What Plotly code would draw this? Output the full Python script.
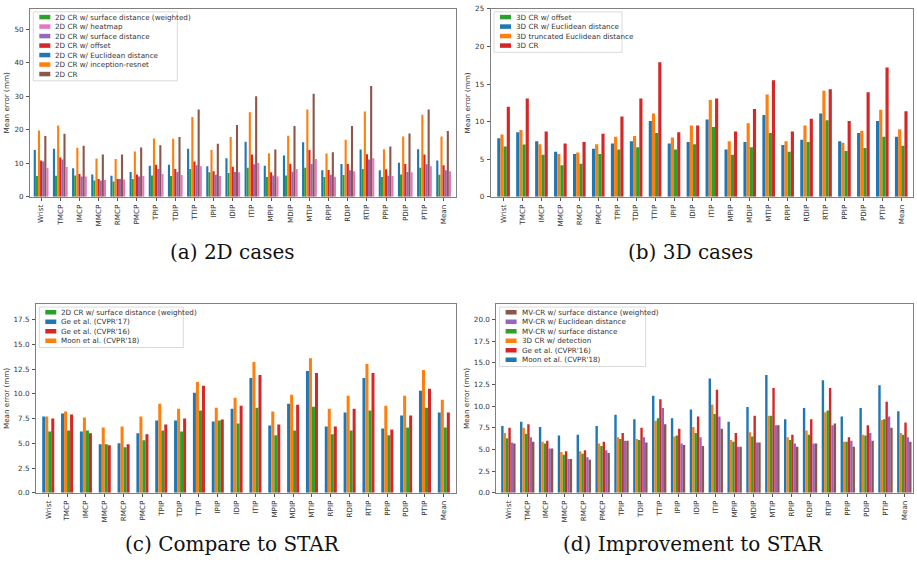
import plotly.graph_objects as go

W, H = 917, 562

categories = ["Wrist", "TMCP", "IMCP", "MMCP", "RMCP", "PMCP", "TPIP", "TDIP", "TTIP",
              "IPIP", "IDIP", "ITIP", "MPIP", "MDIP", "MTIP", "RPIP", "RDIP", "RTIP",
              "PPIP", "PDIP", "PTIP", "Mean"]

# ---------------- (a) 2D cases ----------------
a_weighted = [6.2, 6.3, 6.4, 4.9, 4.6, 5.3, 6.4, 6.2, 8.3, 7.3, 7.1, 8.7, 5.9, 6.4, 8.7, 5.9, 6.5, 8.3, 5.9, 6.7, 8.7, 6.6]
a_heatmap = [8.6, 8.9, 6.1, 5.0, 5.2, 6.2, 6.8, 6.5, 9.1, 6.2, 7.3, 10.1, 6.1, 8.3, 11.3, 6.0, 7.6, 11.5, 6.2, 7.3, 9.1, 7.6]
a_surface = [10.5, 11.1, 6.1, 4.9, 5.3, 6.1, 8.3, 7.4, 9.4, 6.6, 7.4, 9.7, 6.4, 7.5, 9.8, 6.6, 7.9, 11.1, 6.3, 7.4, 9.7, 7.9]
a_offset = [10.8, 11.7, 6.8, 5.3, 5.3, 6.7, 9.6, 8.3, 10.5, 7.6, 9.0, 12.6, 7.3, 9.9, 14.0, 8.0, 9.8, 12.7, 8.2, 9.8, 12.6, 9.4]
a_euclid = [14.0, 14.3, 8.5, 6.7, 6.3, 7.4, 9.3, 9.6, 14.3, 9.1, 11.5, 16.4, 9.3, 12.3, 16.3, 7.9, 9.8, 14.1, 7.9, 10.2, 14.2, 10.8]
a_inception = [19.8, 21.3, 14.6, 11.4, 11.3, 13.5, 17.4, 17.3, 23.8, 14.0, 17.8, 25.2, 13.0, 18.2, 26.0, 12.9, 17.0, 25.4, 14.2, 18.0, 24.5, 18.0]
a_cr = [18.1, 18.8, 15.2, 12.6, 12.6, 14.7, 15.4, 17.8, 26.0, 15.8, 21.4, 30.0, 14.1, 21.1, 30.7, 13.3, 21.1, 33.0, 15.0, 18.9, 26.0, 19.6]

# ---------------- (b) 3D cases ----------------
b_offset = [6.7, 6.95, 5.6, 4.2, 4.4, 5.7, 6.3, 6.6, 8.5, 6.3, 7.0, 9.3, 5.6, 6.6, 8.5, 6.0, 7.3, 10.2, 6.1, 6.5, 8.0, 6.8]
b_euclid = [7.8, 8.6, 7.4, 6.0, 5.7, 6.4, 7.1, 7.4, 10.1, 7.1, 7.3, 10.3, 6.3, 7.3, 10.9, 6.9, 7.6, 11.1, 7.4, 8.5, 10.1, 8.0]
b_trunc = [8.3, 8.9, 7.0, 5.7, 5.9, 7.0, 8.0, 8.1, 11.1, 7.9, 9.5, 12.9, 7.4, 9.8, 13.6, 7.4, 9.5, 14.1, 7.2, 8.8, 11.6, 9.0]
b_cr = [12.0, 13.1, 8.7, 7.1, 7.3, 8.4, 10.7, 13.1, 17.9, 8.6, 9.5, 13.1, 8.7, 11.7, 15.5, 8.7, 10.4, 14.3, 10.1, 13.9, 17.2, 11.4]

# ---------------- (c) Compare to STAR ----------------
c_weighted = [6.2, 6.3, 6.3, 4.9, 4.6, 5.3, 6.3, 6.2, 8.3, 7.3, 7.0, 8.6, 5.8, 6.3, 8.7, 5.9, 6.3, 8.3, 5.8, 6.6, 8.6, 6.6]
c_ge17 = [7.7, 8.0, 6.2, 4.9, 5.0, 6.0, 7.3, 7.3, 10.1, 7.2, 8.5, 11.6, 6.8, 9.0, 12.3, 6.7, 8.1, 11.6, 6.5, 7.8, 10.3, 8.1]
c_ge16 = [7.5, 7.9, 6.0, 4.8, 4.9, 5.9, 6.9, 7.5, 10.8, 7.4, 8.8, 11.9, 6.9, 8.9, 12.1, 6.7, 8.5, 12.1, 6.4, 7.8, 10.5, 8.1]
c_moon = [7.7, 8.2, 7.6, 6.6, 6.7, 7.7, 9.0, 8.5, 11.2, 8.6, 9.6, 13.2, 8.2, 9.9, 13.6, 8.5, 9.8, 13.0, 8.8, 9.8, 12.4, 9.4]

# ---------------- (d) Improvement to STAR ----------------
d_mv_weighted = [5.7, 5.9, 5.1, 3.9, 3.8, 4.6, 6.0, 5.8, 7.9, 5.5, 5.4, 7.4, 5.3, 5.8, 7.8, 5.3, 5.7, 8.0, 5.3, 6.0, 7.5, 5.9]
d_mv_euclid = [5.8, 6.4, 5.1, 3.9, 4.1, 4.9, 6.0, 6.4, 9.8, 5.7, 6.4, 8.8, 5.3, 5.8, 7.8, 5.7, 5.7, 7.8, 6.0, 6.9, 8.8, 6.4]
d_mv_surface = [6.3, 6.8, 5.7, 4.4, 4.5, 5.4, 6.2, 6.1, 8.6, 6.6, 6.9, 9.1, 5.9, 6.5, 8.9, 6.1, 6.7, 9.5, 5.9, 6.6, 8.5, 6.7]
d_detection = [6.9, 7.5, 5.9, 4.7, 4.8, 5.7, 6.4, 6.2, 8.3, 6.5, 7.6, 10.2, 6.1, 7.0, 8.9, 6.4, 7.2, 9.3, 5.9, 6.7, 8.4, 6.9]
d_ge16 = [7.5, 7.9, 6.0, 4.8, 4.9, 5.9, 6.9, 7.5, 10.8, 7.4, 8.8, 11.9, 6.9, 8.9, 12.1, 6.7, 8.5, 12.1, 6.4, 7.8, 10.5, 8.1]
d_moon = [7.7, 8.2, 7.6, 6.6, 6.7, 7.7, 9.0, 8.5, 11.2, 8.6, 9.6, 13.2, 8.2, 9.9, 13.6, 8.5, 9.8, 13.0, 8.8, 9.8, 12.4, 9.4]

captions = ["(a) 2D cases", "(b) 3D cases", "(c) Compare to STAR", "(d) Improvement to STAR"]
y_title = "Mean error (mm)"

C = {"blue": "#1f77b4", "orange": "#ff7f0e", "green": "#2ca02c", "red": "#d62728",
     "purple": "#9467bd", "brown": "#8c564b", "pink": "#e377c2"}

panels = [
    dict(area=(30, 5, 455.5, 196), yrange=[0, 56], dtick=10, fmt="d", bw=0.11, xr=[-0.58, 21.62],
         legend_w=144, caption_xy=(232, 252),
         series=[("2D CR w/ Euclidean distance", a_euclid, "blue"),
                 ("2D CR w/ surface distance (weighted)", a_weighted, "green"),
                 ("2D CR w/ inception-resnet", a_inception, "orange"),
                 ("2D CR w/ offset", a_offset, "red"),
                 ("2D CR w/ surface distance", a_surface, "purple"),
                 ("2D CR", a_cr, "brown"),
                 ("2D CR w/ heatmap", a_heatmap, "pink")],
         legend=["2D CR w/ surface distance (weighted)", "2D CR w/ heatmap", "2D CR w/ surface distance",
                 "2D CR w/ offset", "2D CR w/ Euclidean distance", "2D CR w/ inception-resnet", "2D CR"]),
    dict(area=(490.7, 5, 913, 196), yrange=[0, 25], dtick=5, fmt="d", bw=0.167, xr=[-0.68, 21.62],
         legend_w=128, caption_xy=(690, 252),
         series=[("3D CR w/ Euclidean distance", b_euclid, "blue"),
                 ("3D truncated Euclidean distance", b_trunc, "orange"),
                 ("3D CR w/ offset", b_offset, "green"),
                 ("3D CR", b_cr, "red")],
         legend=["3D CR w/ offset", "3D CR w/ Euclidean distance", "3D truncated Euclidean distance", "3D CR"]),
    dict(area=(36, 305, 455.5, 496.7), yrange=[0, 19.06], dtick=2.5, fmt=".1f", bw=0.16, xr=[-0.65, 21.62],
         legend_w=144, caption_xy=(232, 549),
         series=[("Ge et al. (CVPR'17)", c_ge17, "blue"),
                 ("Moon et al. (CVPR'18)", c_moon, "orange"),
                 ("2D CR w/ surface distance (weighted)", c_weighted, "green"),
                 ("Ge et al. (CVPR'16)", c_ge16, "red")],
         legend=["2D CR w/ surface distance (weighted)", "Ge et al. (CVPR'17)", "Ge et al. (CVPR'16)",
                 "Moon et al. (CVPR'18)"]),
    dict(area=(496.3, 305, 913, 496.7), yrange=[0, 21.78], dtick=2.5, fmt=".1f", bw=0.127, xr=[-0.64, 21.46],
         legend_w=146, caption_xy=(693, 549),
         series=[("Moon et al. (CVPR'18)", d_moon, "blue"),
                 ("3D CR w/ detection", d_detection, "orange"),
                 ("MV-CR w/ surface distance", d_mv_surface, "green"),
                 ("Ge et al. (CVPR'16)", d_ge16, "red"),
                 ("MV-CR w/ Euclidean distance", d_mv_euclid, "purple"),
                 ("MV-CR w/ surface distance (weighted)", d_mv_weighted, "brown")],
         legend=["MV-CR w/ surface distance (weighted)", "MV-CR w/ Euclidean distance",
                 "MV-CR w/ surface distance", "3D CR w/ detection", "Ge et al. (CVPR'16)",
                 "Moon et al. (CVPR'18)"]),
]


def px(x):
    return x / W


def py(y):
    return 1 - y / H


FONT = "DejaVu Sans"
FS = 7.2
fig = go.Figure()
shapes = []
annotations = []

for k, p in enumerate(panels):
    sfx = "" if k == 0 else str(k + 1)
    xa, ya = "x" + sfx, "y" + sfx
    x0, y0, x1, y1 = p["area"]
    n = len(p["series"])
    bw = p["bw"]
    color_of = {}
    for i, (name, vals, col) in enumerate(p["series"]):
        color_of[name] = C[col]
        fig.add_trace(go.Bar(
            x=categories, y=vals, name=name, xaxis=xa, yaxis=ya,
            width=bw, offset=-n * bw / 2 + i * bw,
            marker=dict(color=C[col], line=dict(width=0)),
            showlegend=False,
            hovertemplate="%{x}: %{y}<extra>" + name + "</extra>",
        ))
    axis_common = dict(showline=True, mirror=True, linecolor="#808080", linewidth=1,
                       ticks="outside", ticklen=3, tickcolor="#555", tickwidth=0.8,
                       showgrid=False, zeroline=False,
                       tickfont=dict(family=FONT, size=FS, color="#333"))
    fig.layout["xaxis" + sfx] = dict(
        domain=[px(x0), px(x1)], anchor=ya, type="category",
        range=p["xr"], tickangle=-90, ticklabelstandoff=1, **axis_common)
    fig.layout["yaxis" + sfx] = dict(
        domain=[py(y1), py(y0)], anchor=xa, range=p["yrange"], dtick=p["dtick"], tick0=0,
        tickformat=p["fmt"], ticklabelstandoff=1,
        title=dict(text=y_title, font=dict(family=FONT, size=FS, color="#333"), standoff=3),
        **axis_common)

    # legend box (drawn like the matplotlib legend)
    lx0, ly0 = x0 + 3.3, y0 + 3
    nleg = len(p["legend"])
    lh = 9.65
    shapes.append(dict(type="rect", xref="paper", yref="paper",
                       x0=px(lx0), x1=px(lx0 + p["legend_w"]),
                       y0=py(ly0 + nleg * lh + 2.5), y1=py(ly0),
                       line=dict(color="#d0d0d0", width=0.8), fillcolor="rgba(255,255,255,0.8)",
                       layer="above"))
    for j, name in enumerate(p["legend"]):
        cy = ly0 + 5.3 + j * lh
        shapes.append(dict(type="rect", xref="paper", yref="paper",
                           x0=px(lx0 + 6), x1=px(lx0 + 17), y0=py(cy + 2.3), y1=py(cy - 2.3),
                           line=dict(width=0), fillcolor=color_of[name], layer="above"))
        annotations.append(dict(text=name, xref="paper", yref="paper",
                                x=px(lx0 + 20), y=py(cy), xanchor="left", yanchor="middle",
                                showarrow=False, font=dict(family=FONT, size=FS, color="#333")))
    cx, cy = p["caption_xy"]
    annotations.append(dict(text=captions[k], xref="paper", yref="paper", x=px(cx), y=py(cy),
                            xanchor="center", yanchor="middle", showarrow=False,
                            font=dict(family="DejaVu Serif", size=20, color="#111")))

fig.update_layout(
    width=W, height=H, margin=dict(l=0, r=0, t=0, b=0),
    paper_bgcolor="white", plot_bgcolor="white",
    barmode="overlay", showlegend=False,
    shapes=shapes, annotations=annotations,
)

fig.write_html("out.html", config={"displayModeBar": False},
               post_script="document.body.style.margin='0';document.body.style.overflow='hidden';")
